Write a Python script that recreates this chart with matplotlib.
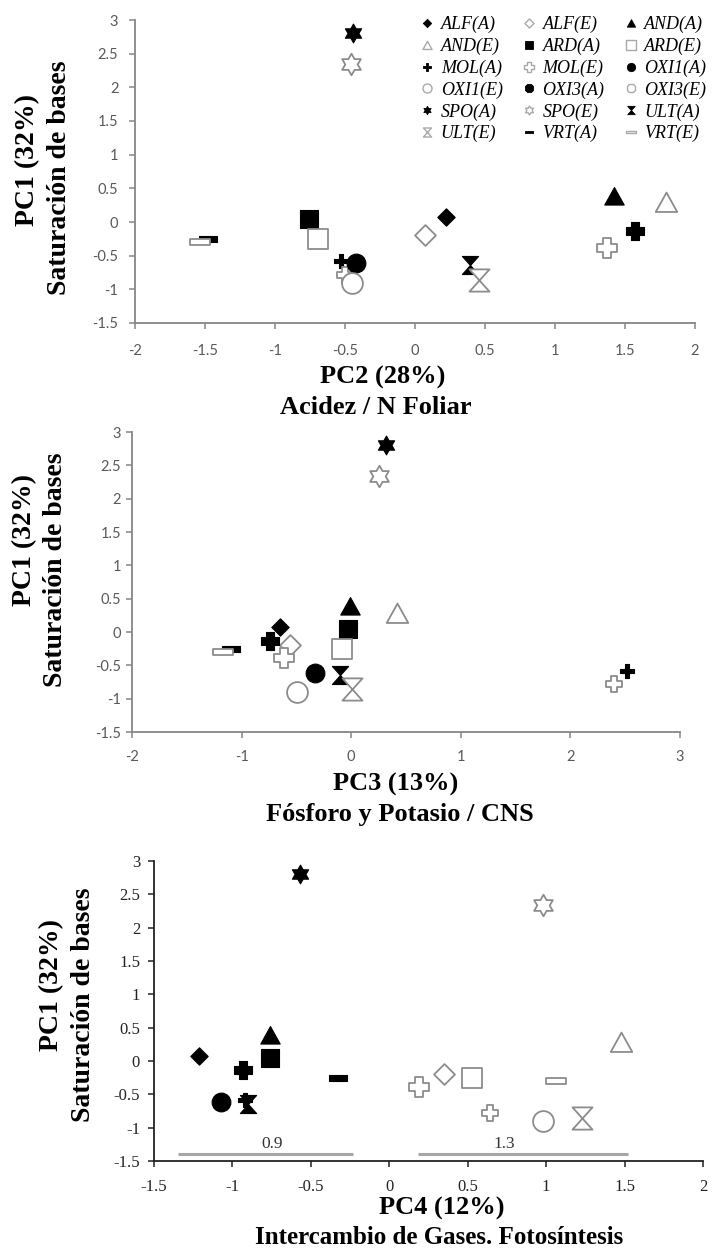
import matplotlib
matplotlib.use('Agg')
import matplotlib.pyplot as plt
from matplotlib.path import Path
from matplotlib.lines import Line2D

plt.rcParams['axes.unicode_minus'] = False

# ---------------- data ----------------
codes = ['ALF(A)', 'ALF(E)', 'AND(A)', 'AND(E)', 'ARD(A)', 'ARD(E)',
         'MOL(A)', 'MOL(E)', 'OXI1(A)', 'OXI1(E)', 'OXI3(A)', 'OXI3(E)',
         'SPO(A)', 'SPO(E)', 'ULT(A)', 'ULT(E)', 'VRT(A)', 'VRT(E)']
pc1 = [0.07, -0.19, 0.39, 0.29, 0.05, -0.25, -0.58, -0.78, -0.61, -0.90,
       -0.14, -0.39, 2.80, 2.34, -0.64, -0.86, -0.25, -0.30]
pc2 = [0.22, 0.07, 1.42, 1.79, -0.76, -0.69, -0.53, -0.50, -0.42, -0.45,
       1.57, 1.37, -0.445, -0.455, 0.39, 0.46, -1.48, -1.535]
pc3 = [-0.65, -0.56, -0.01, 0.415, -0.03, -0.085, 2.52, 2.40, -0.33, -0.49,
       -0.74, -0.61, 0.32, 0.25, -0.10, 0.01, -1.10, -1.17]
pc4 = [-1.21, 0.35, -0.76, 1.48, -0.76, 0.53, -0.92, 0.64, -1.07, 0.98,
       -0.93, 0.19, -0.57, 0.98, -0.90, 1.23, -0.33, 1.06]

y_ticks = [-1.5, -1, -0.5, 0, 0.5, 1, 1.5, 2, 2.5, 3]
y_ticklabels = ['-1.5', '-1', '-0.5', '0', '0.5', '1', '1.5', '2', '2.5', '3']
x1_ticks = [-2, -1.5, -1, -0.5, 0, 0.5, 1, 1.5, 2]
x1_ticklabels = ['-2', '-1.5', '-1', '-0.5', '0', '0.5', '1', '1.5', '2']
x2_ticks = [-2, -1, 0, 1, 2, 3]
x2_ticklabels = ['-2', '-1', '0', '1', '2', '3']
x3_ticks = [-1.5, -1, -0.5, 0, 0.5, 1, 1.5, 2]
x3_ticklabels = ['-1.5', '-1', '-0.5', '0', '0.5', '1', '1.5', '2']

group_labels = ['0.9', '1.3']
group_start = [-1.35, 0.18]
group_end = [-0.23, 1.52]
group_label_x = [-0.75, 0.73]
group_line_y = -1.40
group_label_y = -1.25

# ---------------- marker shapes ----------------
def poly(verts):
    v = list(verts) + [verts[0]]
    c = [Path.MOVETO] + [Path.LINETO] * (len(verts) - 1) + [Path.CLOSEPOLY]
    return Path(v, c)

def plus(w):
    return poly([(-w, 1), (w, 1), (w, w), (1, w), (1, -w), (w, -w), (w, -1),
                 (-w, -1), (-w, -w), (-1, -w), (-1, w), (-w, w)])

DIAMOND = poly([(0, 1), (1, 0), (0, -1), (-1, 0)])
TRIANGLE = poly([(-1, -0.88), (1, -0.88), (0, 0.92)])
SQUARE = poly([(-1, -1), (1, -1), (1, 1), (-1, 1)])
HEXAGRAM = Path.unit_regular_star(6, 0.577)
HOURGLASS = poly([(-0.9, 1), (0.9, 1), (-0.9, -1), (0.9, -1)])
RECT = poly([(-1, -0.28), (1, -0.28), (1, 0.28), (-1, 0.28)])

BLACK = 'black'
GREY = '#8c8c8c'
LGREY = '#a9a9a9'

# plot styles: marker, size(pt)
plot_style = {
    'ALF(A)': (DIAMOND, 12.5), 'ALF(E)': (DIAMOND, 15),
    'AND(A)': (TRIANGLE, 14), 'AND(E)': (TRIANGLE, 15.5),
    'ARD(A)': (SQUARE, 13.5), 'ARD(E)': (SQUARE, 15),
    'MOL(A)': (plus(0.3), 9.5), 'MOL(E)': (plus(0.38), 11),
    'OXI1(A)': ('o', 13.5), 'OXI1(E)': ('o', 15),
    'OXI3(A)': (plus(0.45), 13), 'OXI3(E)': (plus(0.42), 15),
    'SPO(A)': (HEXAGRAM, 13.5), 'SPO(E)': (HEXAGRAM, 15.5),
    'ULT(A)': (HOURGLASS, 13), 'ULT(E)': (HOURGLASS, 16),
    'VRT(A)': (RECT, 13), 'VRT(E)': (RECT, 15),
}
legend_marker = {
    'ALF(A)': DIAMOND, 'ALF(E)': DIAMOND, 'AND(A)': TRIANGLE, 'AND(E)': TRIANGLE,
    'ARD(A)': SQUARE, 'ARD(E)': SQUARE, 'MOL(A)': plus(0.3), 'MOL(E)': plus(0.38),
    'OXI1(A)': 'o', 'OXI1(E)': 'o', 'OXI3(A)': '8', 'OXI3(E)': '8',
    'SPO(A)': HEXAGRAM, 'SPO(E)': HEXAGRAM, 'ULT(A)': HOURGLASS, 'ULT(E)': HOURGLASS,
    'VRT(A)': RECT, 'VRT(E)': RECT,
}

W, H = 712, 1254
fig = plt.figure(figsize=(W / 100, H / 100), dpi=100)

def ax_at(l, t, r, b):
    return fig.add_axes([l / W, 1 - b / H, (r - l) / W, (b - t) / H])

def ftext(x, y, s, **kw):
    fig.text(x / W, 1 - y / H, s, ha='center', va='center', **kw)

SERIF = 'Liberation Serif'

def draw(ax, xs):
    for code, x, y in zip(codes, xs, pc1):
        m, ms = plot_style[code]
        if code.endswith('(A)'):
            ax.plot([x], [y], linestyle='none', marker=m, markersize=ms,
                    markerfacecolor=BLACK, markeredgecolor=BLACK, markeredgewidth=0.8)
        else:
            ax.plot([x], [y], linestyle='none', marker=m, markersize=ms,
                    markerfacecolor='white', markeredgecolor=GREY, markeredgewidth=1.3)

def style_axes(ax, spine_color, tick_color, tick_font, tick_size, xpad, ypad):
    for s in ['top', 'right']:
        ax.spines[s].set_visible(False)
    for s in ['left', 'bottom']:
        ax.spines[s].set_color(spine_color)
        ax.spines[s].set_linewidth(1.3)
    ax.tick_params(axis='both', direction='out', length=4, width=1.1, color=spine_color,
                   labelcolor=tick_color, labelsize=tick_size)
    ax.tick_params(axis='x', pad=xpad)
    ax.tick_params(axis='y', pad=ypad)
    for lab in ax.get_xticklabels() + ax.get_yticklabels():
        lab.set_fontfamily(tick_font)

# ---------- panel 1 ----------
ax1 = ax_at(135, 20, 695, 323)
draw(ax1, pc2)
ax1.set_xlim(-2, 2)
ax1.set_ylim(-1.5, 3)
ax1.set_xticks(x1_ticks, x1_ticklabels)
ax1.set_yticks(y_ticks, y_ticklabels)
style_axes(ax1, '#868686', '#595959', 'Lato', 10.5, 11, 8)

# legend (row-wise order as in the reference)
handles = []
for code in codes:
    if code.endswith('(A)'):
        h = Line2D([], [], linestyle='none', marker=legend_marker[code], markersize=6,
                   markerfacecolor=BLACK, markeredgecolor=BLACK, markeredgewidth=0.6)
    else:
        h = Line2D([], [], linestyle='none', marker=legend_marker[code], markersize=6.5,
                   markerfacecolor='white', markeredgecolor=LGREY, markeredgewidth=1.0)
    handles.append(h)
ncol = 3
order = [i for c in range(ncol) for i in range(c, len(codes), ncol)]
leg = fig.legend([handles[i] for i in order], [codes[i] for i in order],
                 ncol=ncol, loc='upper left', bbox_to_anchor=(420 / W, 1 - 16 / H),
                 frameon=False, borderpad=0, borderaxespad=0, handlelength=0.8,
                 handletextpad=0.35, columnspacing=1.05, labelspacing=0.25,
                 prop={'family': SERIF, 'style': 'italic', 'size': 13})

ftext(28, 160, 'PC1 (32%)', rotation=90, family=SERIF, weight='bold', size=20)
ftext(60, 178, 'Saturación de bases', rotation=90, family=SERIF, weight='bold', size=20)
ftext(383, 377, 'PC2 (28%)', family=SERIF, weight='bold', size=19)
ftext(376, 408, 'Acidez / N Foliar', family=SERIF, weight='bold', size=19)

# ---------- panel 2 ----------
ax2 = ax_at(132, 432, 680, 732)
draw(ax2, pc3)
ax2.set_xlim(-2, 3)
ax2.set_ylim(-1.5, 3)
ax2.set_xticks(x2_ticks, x2_ticklabels)
ax2.set_yticks(y_ticks, y_ticklabels)
style_axes(ax2, '#868686', '#595959', 'Lato', 10.5, 9, 4)

ftext(25, 540, 'PC1 (32%)', rotation=90, family=SERIF, weight='bold', size=20)
ftext(56, 570, 'Saturación de bases', rotation=90, family=SERIF, weight='bold', size=20)
ftext(396, 784, 'PC3 (13%)', family=SERIF, weight='bold', size=19)
ftext(400, 815, 'Fósforo y Potasio / CNS', family=SERIF, weight='bold', size=19)

# ---------- panel 3 ----------
ax3 = ax_at(154, 861, 703, 1161)
draw(ax3, pc4)
for x0, x1, lab, lx in zip(group_start, group_end, group_labels, group_label_x):
    ax3.plot([x0, x1], [group_line_y, group_line_y], color='#a6a6a6', lw=2.2,
             solid_capstyle='butt')
    ax3.text(lx, group_label_y, lab, ha='center', va='center', family=SERIF,
             size=12.5, color='#333333')
ax3.set_xlim(-1.5, 2)
ax3.set_ylim(-1.5, 3)
ax3.set_xticks(x3_ticks, x3_ticklabels)
ax3.set_yticks(y_ticks, y_ticklabels)
style_axes(ax3, '#222222', '#222222', SERIF, 12, 9, 6)

ftext(52, 985, 'PC1 (32%)', rotation=90, family=SERIF, weight='bold', size=20)
ftext(83, 1005, 'Saturación de bases', rotation=90, family=SERIF, weight='bold', size=20)
ftext(442, 1208, 'PC4 (12%)', family=SERIF, weight='bold', size=19)
ftext(439, 1238, 'Intercambio de Gases. Fotosíntesis', family=SERIF, weight='bold', size=18)

fig.savefig('out.png', dpi=100)
